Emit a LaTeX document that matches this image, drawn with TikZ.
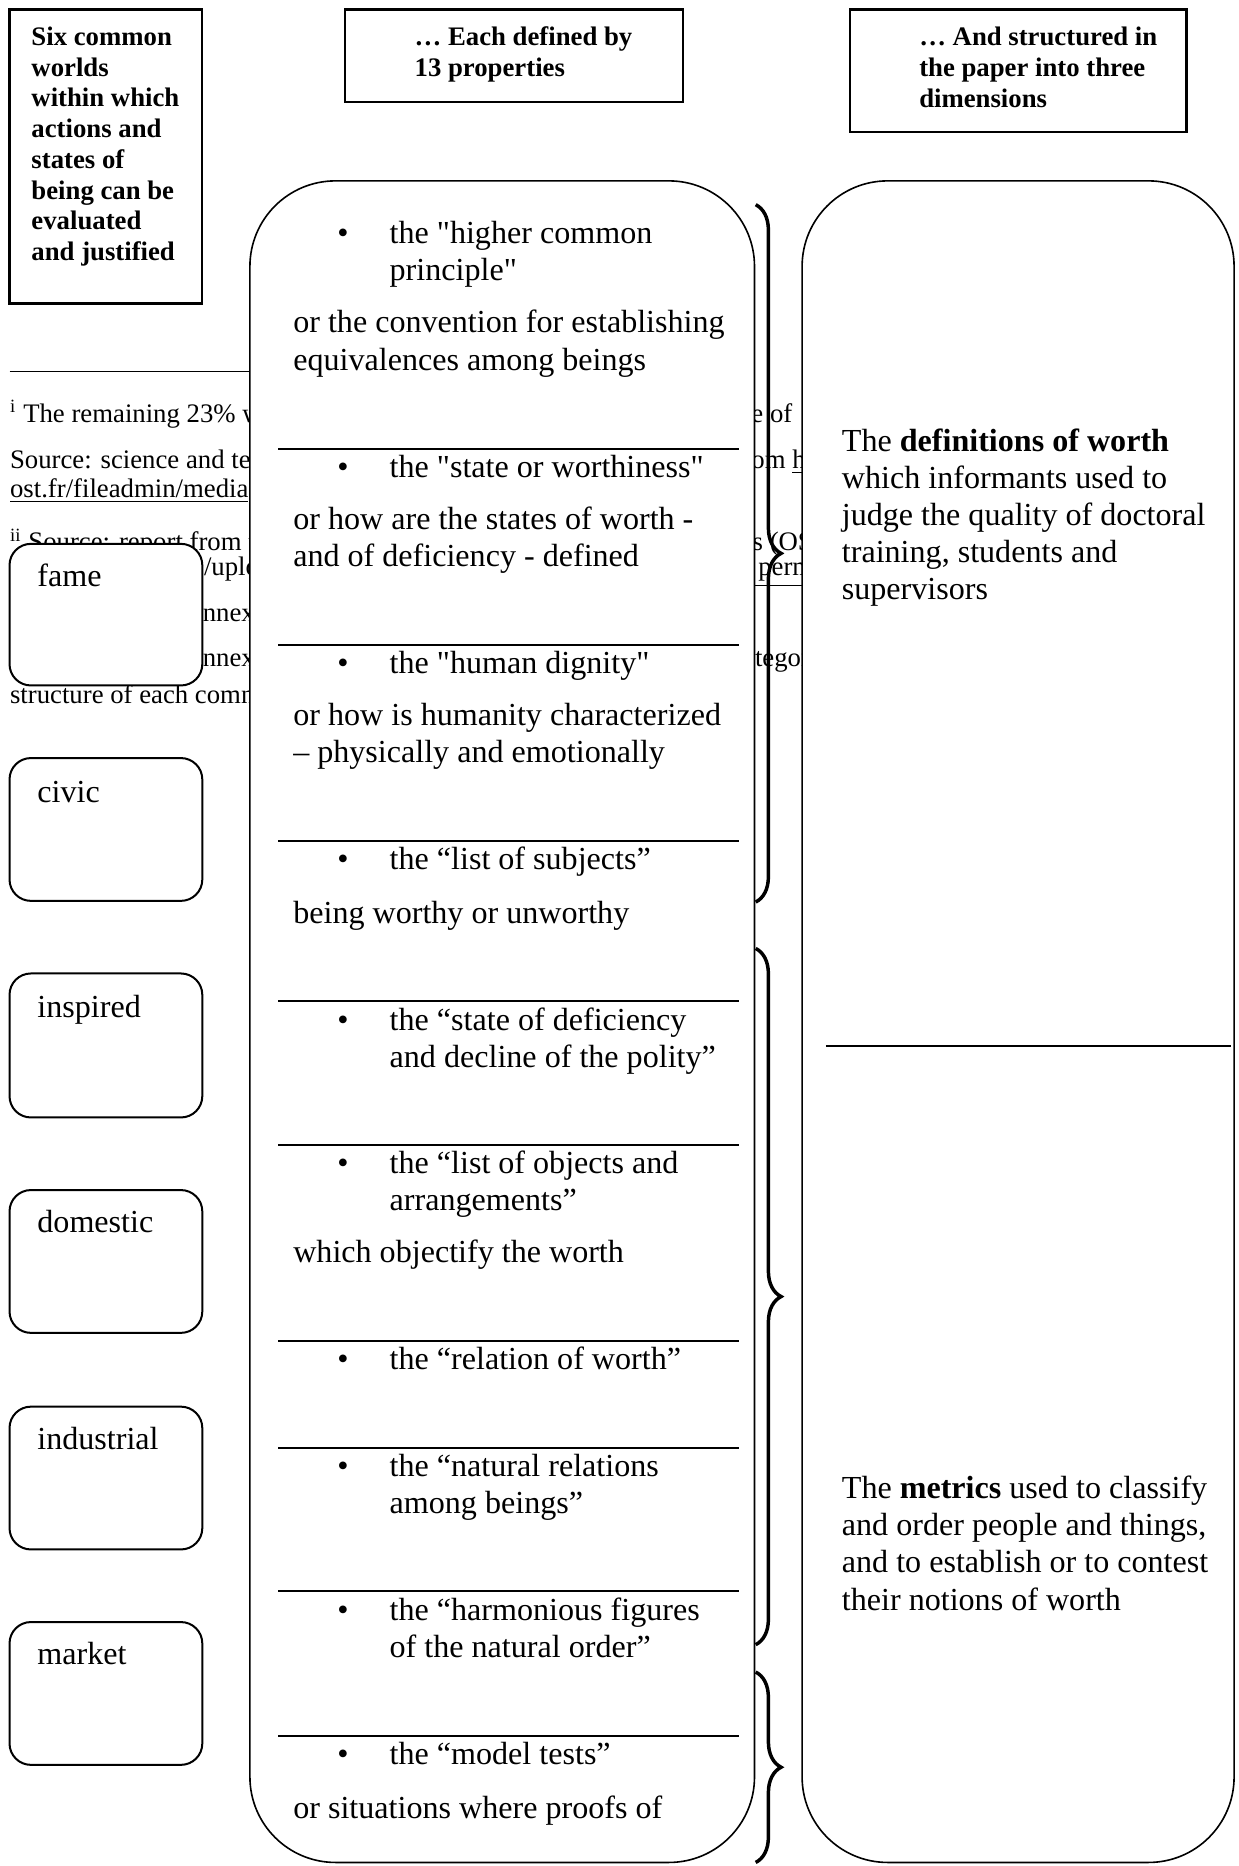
\documentclass[tikz,border=0pt]{standalone}
\usepackage{fontspec}
\setmainfont{Liberation Serif}[Ligatures=TeXOff]
\usetikzlibrary{decorations.pathreplacing}

\begin{document}
\begin{tikzpicture}[x=0.445pt, y=-0.445pt,
        head/.style={anchor=base west, inner sep=0, align=left, font=\fontsize{10}{11.5}\selectfont\bfseries},
        note/.style={anchor=base west, inner sep=0, font=\fontsize{10}{11.5}\selectfont},
        body/.style={anchor=base west, inner sep=0, align=left, font=\fontsize{12}{13.9}\selectfont},
        world/.style={draw, line width=0.75pt, fill=white, rounded corners=8pt},
        panel/.style={draw, line width=0.6pt, fill=white, rounded corners=32pt},
        divider/.style={line width=0.8pt},
        curly/.style={decorate, decoration={brace, amplitude=9.5pt}, line width=1.3pt}]

        \useasboundingbox (0,0) rectangle (1041,1568);

        % footnotes left behind the boxes
        \draw [line width=0.5pt] (8,312)--(260,312);
        \node[note] (fnA) at (8,355) {\textsuperscript{i} The remaining 23\% w};
        \node[note] (fnB) at (8,394) {Source: science and te};
        \node[note] (fnC) at (8,418) {\underline{ost.fr/fileadmin/media}};
        \node[note] (fnD) at (8,463) {\textsuperscript{ii} Source: report from t};
        \node[note] (fnE) at (171,484) {/uplo};
        \node[note] (fnF) at (170,522) {nnex};
        \node[note] (fnG) at (170,560) {nnex};
        \node[note] (fnH) at (8,591) {structure of each comn};

        \node[note] (fnI) at (631,355) {e of};
        \node[note] (fnJ) at (631,394) {om \underline{h}};
        \node[note] (fnK) at (632,463) {s (OS};
        \node[note] (fnL) at (630,484) {\underline{\hspace{3pt}perm}};
        \node[note] (fnM) at (634,560) {tegor};

        % headings (base = last line)
        \draw [line width=0.8pt] (8,8) rectangle (170,255);
        \node[head] (worlds) at (26,219) {Six common\\worlds\\within which\\actions and\\states of\\being can be\\evaluated\\and justified};

        \draw [line width=0.8pt] (290,8) rectangle (574,86);
        \node[head] (props) at (348,64) {… Each defined by\\13 properties};

        \draw [line width=0.8pt] (714,8) rectangle (997,111);
        \node[head] (dims) at (772,90) {… And structured in\\the paper into three\\dimensions};

        % the six worlds
        \draw [world] (8,457) rectangle (170,576);
        \draw [world] (8,637) rectangle (170,757);
        \draw [world] (8,818) rectangle (170,939);
        \draw [world] (8,1000) rectangle (170,1120);
        \draw [world] (8,1182) rectangle (170,1302);
        \draw [world] (8,1363) rectangle (170,1483);

        \node[body] (fame) at (31,493) {fame};
        \node[body] (civic) at (31,674) {civic};
        \node[body] (inspired) at (31,855) {inspired};
        \node[body] (domestic) at (31,1036) {domestic};
        \node[body] (industrial) at (31,1218) {industrial};
        \node[body] (market) at (31,1399) {market};

        % the 13 properties
        \draw [panel] (210,152) rectangle (634,1565);

        \draw [divider] (234,377)--(621,377);
        \draw [divider] (234,542)--(621,542);
        \draw [divider] (234,707)--(621,707);
        \draw [divider] (234,841)--(621,841);
        \draw [divider] (234,962)--(621,962);
        \draw [divider] (234,1127)--(621,1127);
        \draw [divider] (234,1217)--(621,1217);
        \draw [divider] (234,1337)--(621,1337);
        \draw [divider] (234,1459)--(621,1459);

        \node[body] (b1) at (283,205) {•};
        \node[body] (p1) at (327,236) {the "higher common\\principle"};
        \node[body] (q1) at (246,311) {or the convention for establishing\\equivalences among beings};

        \node[body] (b2) at (283,401) {•};
        \node[body] (p2) at (327,401) {the "state or worthiness"};
        \node[body] (q2) at (246,476) {or how are the states of worth -\\and of deficiency - defined};

        \node[body] (b3) at (283,566) {•};
        \node[body] (p3) at (327,566) {the "human dignity"};
        \node[body] (q3) at (246,641) {or how is humanity characterized\\– physically and emotionally};

        \node[body] (b4) at (283,731) {•};
        \node[body] (p4) at (327,731) {the “list of subjects”};
        \node[body] (q4) at (246,776) {being worthy or unworthy};

        \node[body] (b5) at (283,866) {•};
        \node[body] (p5) at (327,897) {the “state of deficiency\\and decline of the polity”};

        \node[body] (b6) at (283,986) {•};
        \node[body] (p6) at (327,1017) {the “list of objects and\\arrangements”};
        \node[body] (q6) at (246,1061) {which objectify the worth};

        \node[body] (b7) at (283,1151) {•};
        \node[body] (p7) at (327,1151) {the “relation of worth”};

        \node[body] (b8) at (283,1241) {•};
        \node[body] (p8) at (327,1272) {the “natural relations\\among beings”};

        \node[body] (b9) at (283,1362) {•};
        \node[body] (p9) at (327,1393) {the “harmonious figures\\of the natural order”};

        \node[body] (b10) at (283,1483) {•};
        \node[body] (p10) at (327,1483) {the “model tests”};
        \node[body] (q10) at (246,1528) {or situations where proofs of};

        % the three dimensions
        \draw [panel] (674,152) rectangle (1037,1565);
        \draw [divider] (694,879)--(1034,879);

        \node[body] (worth) at (707,504) {The \textbf{definitions of worth}\\which informants used to\\judge the quality of doctoral\\training, students and\\supervisors};
        \node[body] (metrics) at (707,1353) {The \textbf{metrics} used to classify\\and order people and things,\\and to establish or to contest\\their notions of worth};

        \draw [curly] (635,172)--(635,758);
        \draw [curly] (635,797)--(635,1382);
        \draw [curly] (635,1405)--(635,1565);
    \end{tikzpicture}
\end{document}
